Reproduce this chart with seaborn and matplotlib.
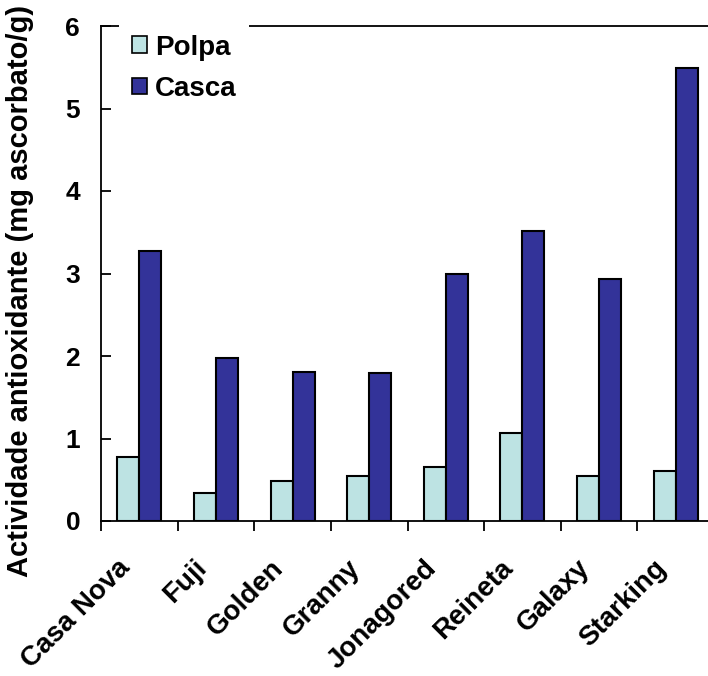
"""Actividade antioxidante em polpa e casca de variedades de maçã."""

import numpy as np
import pandas as pd
import matplotlib
matplotlib.use("Agg")
import matplotlib.pyplot as plt
import seaborn as sns

variedades = ["Casa Nova", "Fuji", "Golden", "Granny", "Jonagored",
              "Reineta", "Galaxy", "Starking"]
polpa = [0.78, 0.34, 0.49, 0.54, 0.66, 1.07, 0.54, 0.61]
casca = [3.27, 1.98, 1.81, 1.79, 3.00, 3.51, 2.93, 5.49]
partes = ["Polpa", "Casca"]
cores = ["#BDE3E3", "#333399"]

df = pd.DataFrame({
    "variedade": variedades * 2,
    "parte": ["Polpa"] * len(polpa) + ["Casca"] * len(casca),
    "valor": polpa + casca,
})

sns.set_style("white")
plt.rcParams["font.family"] = ["Liberation Sans", "DejaVu Sans"]
plt.rcParams["font.weight"] = "bold"
for k in ["text.color", "axes.labelcolor", "xtick.color", "ytick.color"]:
    plt.rcParams[k] = "black"

fig = plt.figure(figsize=(7.08, 6.76), dpi=100)
ax = fig.add_axes([101 / 708, 155 / 676, 613 / 708, 495 / 676])

sns.barplot(data=df, x="variedade", y="valor", hue="parte",
            hue_order=partes, palette=cores, width=0.575, gap=0,
            edgecolor="black", linewidth=1.5, saturation=1,
            ax=ax, legend=False)

ax.set_ylim(0, 6)
ax.set_xlim(-0.5, len(variedades) - 0.5)
ax.set_yticks(range(0, 7))
ax.set_yticklabels([str(i) for i in range(0, 7)], fontsize=19, fontweight="bold")
ax.tick_params(axis="y", direction="in", length=7, width=1.3, pad=15, left=True)

# category labels a little left of the centres, ticks at the boundaries
ax.set_xticks(np.arange(len(variedades)) - 0.17)
ax.set_xticklabels(variedades, rotation=45, ha="right", va="center",
                   rotation_mode="anchor", fontsize=20, fontweight="bold")
ax.set_xticks(np.arange(len(variedades) + 1) - 0.5, minor=True)
ax.tick_params(axis="x", which="major", length=0, pad=31)
ax.tick_params(axis="x", which="minor", direction="out", length=7,
               width=1.3, bottom=True)

ax.set_xlabel("")
ax.set_ylabel("Actividade antioxidante (mg ascorbato/g)", fontsize=21,
              fontweight="bold")
ax.yaxis.set_label_coords(-0.11, 0.465)

for s in ax.spines.values():
    s.set_color("black")
    s.set_linewidth(1.3)

handles = [plt.Rectangle((0, 0), 1, 1, facecolor=c, edgecolor="black",
                         linewidth=1.2) for c in cores]
leg = ax.legend(handles, partes, loc="upper left",
                bbox_to_anchor=(18 / 613, 1.008), frameon=True,
                prop={"size": 20, "weight": "bold"}, handlelength=0.54,
                handleheight=0.54, handletextpad=0.3, labelspacing=0.55,
                borderpad=0.45, borderaxespad=0, fancybox=False)
leg.get_frame().set_edgecolor("none")
leg.get_frame().set_facecolor("white")
leg.get_frame().set_alpha(1)

fig.savefig("out.png", dpi=100)
